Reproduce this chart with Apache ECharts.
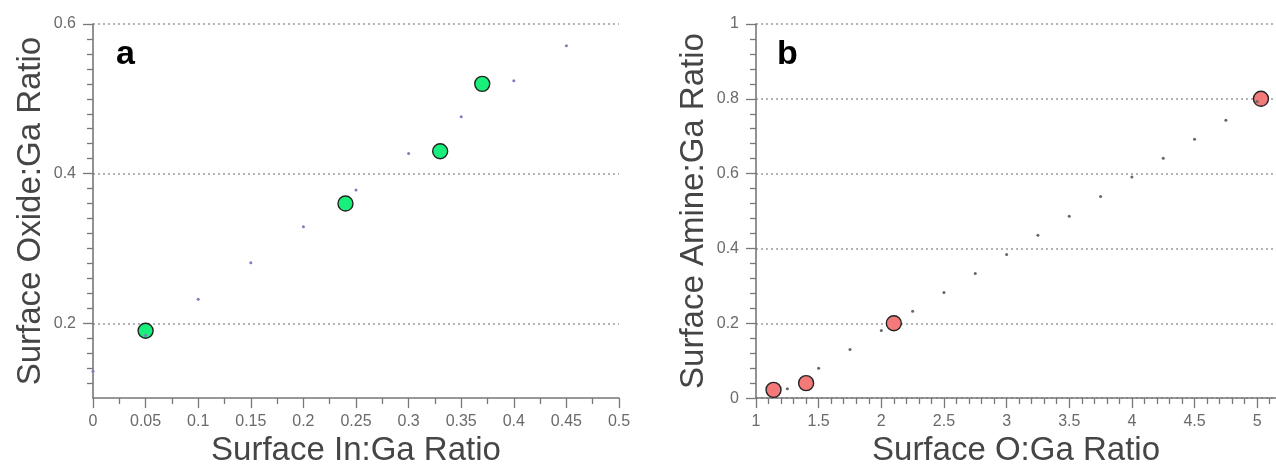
<!DOCTYPE html>
<html>
<head>
<meta charset="utf-8">
<script src="https://cdn.jsdelivr.net/npm/echarts@6.0.0/dist/echarts.min.js"></script>
<style>
html,body{margin:0;padding:0;background:#fff;overflow:hidden;}
#main{width:1276px;height:472px;}
</style>
</head>
<body>
<div id="main"></div>
<script>
// Panel a: Surface In:Ga vs Surface Oxide:Ga
const aPointsX = [0.05, 0.24, 0.33, 0.37];
const aPointsY = [0.19, 0.36, 0.43, 0.52];
const aLineX = [0, 0.05, 0.1, 0.15, 0.2, 0.25, 0.3, 0.35, 0.4, 0.45];
const aLineY = [0.136, 0.184, 0.232, 0.281, 0.329, 0.378, 0.427, 0.476, 0.524, 0.571];
const aYTicks = [0.2, 0.4, 0.6];

// Panel b: Surface O:Ga vs Surface Amine:Ga
const bPointsX = [1.14, 1.40, 2.10, 5.03];
const bPointsY = [0.022, 0.04, 0.20, 0.80];
const bLineX = [1.25, 1.5, 1.75, 2.0, 2.25, 2.5, 2.75, 3.0, 3.25, 3.5, 3.75, 4.0, 4.25, 4.5, 4.75, 5.0];
const bLineY = [0.025, 0.08, 0.13, 0.181, 0.232, 0.282, 0.333, 0.384, 0.435, 0.486, 0.539, 0.591, 0.641, 0.692, 0.743, 0.793];
const bXTicks = [1, 1.5, 2, 2.5, 3, 3.5, 4, 4.5, 5];

function zip(xs, ys) { return xs.map((x, i) => [x, ys[i]]); }
function minorTicks(start, end, step, majors) {
  const out = [];
  const n = Math.round((end - start) / step);
  for (let i = 0; i <= n; i++) {
    const v = +(start + i * step).toFixed(4);
    if (!majors.some(m => Math.abs(m - v) < 1e-6)) out.push(v);
  }
  return out;
}

const axisColor = '#777';
const labelStyle = { fontFamily: 'Liberation Sans, Arial, sans-serif', fontSize: 16, color: '#6a6a6a' };
const nameStyle = { fontFamily: 'Liberation Sans, Arial, sans-serif', fontSize: 33, color: '#454545' };
const splitStyle = { show: true, lineStyle: { type: [2, 3], color: '#9a9a9a', width: 1.5 } };
const lineStyle = { lineStyle: { color: axisColor, width: 1.6 } };
const majorTick = (extra) => Object.assign({ show: true, length: 10, lineStyle: { color: axisColor, width: 1.3 } }, extra || {});
const minorTickStyle = { color: axisColor, width: 1.3 };

const chart = echarts.init(document.getElementById('main'), null, { renderer: 'canvas' });
chart.setOption({
  animation: false,
  backgroundColor: '#fff',
  grid: [
    { left: 93, right: 657, top: 24, bottom: 67.6 },
    { left: 756, right: 0, top: 24, bottom: 66.3 }
  ],
  xAxis: [
    {
      gridIndex: 0, type: 'value', position: 'bottom', min: 0, max: 0.5, interval: 0.05,
      axisLine: lineStyle,
      axisTick: majorTick(),
      minorTick: { show: true, splitNumber: 2, length: 6, lineStyle: minorTickStyle },
      axisLabel: Object.assign({ margin: 15 }, labelStyle),
      splitLine: { show: false },
      name: 'Surface In:Ga Ratio', nameLocation: 'middle', nameGap: 32, nameTextStyle: nameStyle
    },
    {
      gridIndex: 1, type: 'value', position: 'bottom', min: 1, max: 5.15, interval: 0.5,
      axisLine: lineStyle,
      axisTick: majorTick({ customValues: bXTicks }),
      axisLabel: Object.assign({ margin: 15, customValues: bXTicks }, labelStyle),
      splitLine: { show: false },
      name: 'Surface O:Ga Ratio', nameLocation: 'middle', nameGap: 32, nameTextStyle: nameStyle
    },
    {
      gridIndex: 1, type: 'value', position: 'bottom', min: 1, max: 5.15, interval: 0.5,
      axisLine: { show: false },
      axisTick: { show: true, length: 6, customValues: minorTicks(1, 5.1, 0.1, bXTicks), lineStyle: minorTickStyle },
      axisLabel: { show: false },
      splitLine: { show: false }
    }
  ],
  yAxis: [
    {
      gridIndex: 0, type: 'value', position: 'left', min: 0.1, max: 0.6, interval: 0.1,
      axisLine: lineStyle,
      axisTick: majorTick({ customValues: aYTicks }),
      axisLabel: Object.assign({ margin: 17, customValues: aYTicks }, labelStyle),
      splitLine: splitStyle,
      name: 'Surface Oxide:Ga Ratio', nameLocation: 'middle', nameGap: 46, nameTextStyle: nameStyle
    },
    {
      gridIndex: 0, type: 'value', position: 'left', min: 0.1, max: 0.6, interval: 0.1,
      axisLine: { show: false },
      axisTick: { show: true, length: 6, customValues: minorTicks(0.1, 0.6, 0.02, aYTicks.concat([0.1])), lineStyle: minorTickStyle },
      axisLabel: { show: false },
      splitLine: { show: false }
    },
    {
      gridIndex: 1, type: 'value', position: 'left', min: 0, max: 1, interval: 0.2,
      axisLine: lineStyle,
      axisTick: majorTick(),
      minorTick: { show: true, splitNumber: 5, length: 6, lineStyle: minorTickStyle },
      axisLabel: Object.assign({ margin: 17 }, labelStyle),
      splitLine: splitStyle,
      name: 'Surface Amine:Ga Ratio', nameLocation: 'middle', nameGap: 46, nameTextStyle: nameStyle
    }
  ],
  series: [
    {
      type: 'scatter', xAxisIndex: 0, yAxisIndex: 0, data: zip(aPointsX, aPointsY),
      symbol: 'circle', symbolSize: 15,
      itemStyle: { color: '#19f07c', borderColor: '#222', borderWidth: 1.4, opacity: 1 }, silent: true
    },
    {
      type: 'scatter', xAxisIndex: 0, yAxisIndex: 0, data: zip(aLineX, aLineY),
      symbol: 'circle', symbolSize: 3,
      itemStyle: { color: '#7c7cc0', opacity: 1 }, silent: true
    },
    {
      type: 'scatter', xAxisIndex: 1, yAxisIndex: 2, data: zip(bPointsX, bPointsY),
      symbol: 'circle', symbolSize: 15,
      itemStyle: { color: '#f47a7a', borderColor: '#222', borderWidth: 1.4, opacity: 1 }, silent: true
    },
    {
      type: 'scatter', xAxisIndex: 1, yAxisIndex: 2, data: zip(bLineX, bLineY),
      symbol: 'circle', symbolSize: 3,
      itemStyle: { color: '#666', opacity: 1 }, silent: true
    }
  ],
  graphic: [
    { type: 'text', left: 116, top: 38, style: { text: 'a', font: 'bold 34px "Liberation Sans", Arial, sans-serif', fill: '#000' } },
    { type: 'text', left: 777, top: 38, style: { text: 'b', font: 'bold 34px "Liberation Sans", Arial, sans-serif', fill: '#000' } }
  ]
});
</script>
</body>
</html>
